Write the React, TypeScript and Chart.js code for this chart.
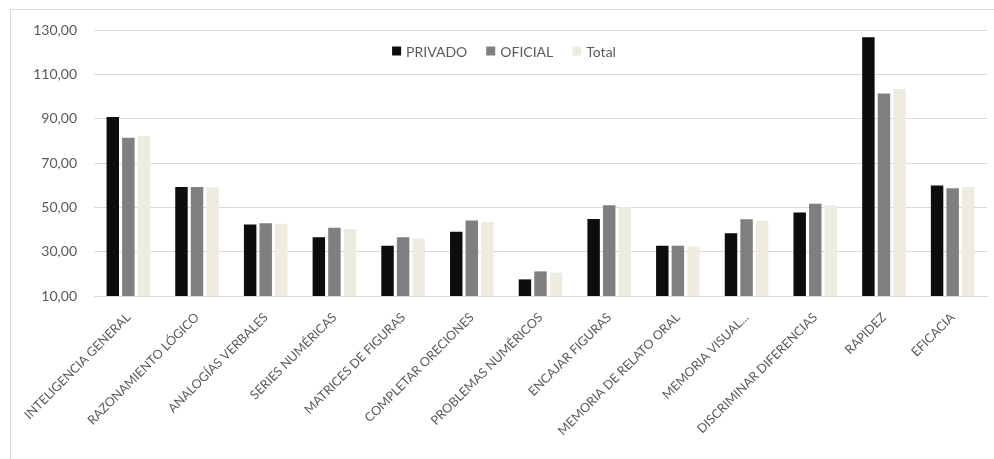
import React, { useEffect, useRef } from "react";
import { Chart, registerables } from "chart.js";

Chart.register(...registerables);

const categories = [
  "INTELIGENCIA GENERAL",
  "RAZONAMIENTO LÓGICO",
  "ANALOGÍAS VERBALES",
  "SERIES NUMÉRICAS",
  "MATRICES DE FIGURAS",
  "COMPLETAR ORECIONES",
  "PROBLEMAS NUMÉRICOS",
  "ENCAJAR FIGURAS",
  "MEMORIA DE RELATO ORAL",
  "MEMORIA VISUAL...",
  "DISCRIMINAR DIFERENCIAS",
  "RAPIDEZ",
  "EFICACIA",
];

const privado = [90.7, 59.2, 42.2, 36.5, 32.7, 39.0, 17.5, 44.7, 32.7, 38.3, 47.7, 126.7, 59.8];
const oficial = [81.4, 59.2, 42.8, 40.8, 36.5, 44.1, 21.1, 50.9, 32.7, 44.6, 51.6, 101.4, 58.6];
const total = [82.2, 59.1, 42.6, 40.2, 35.9, 43.4, 20.5, 50.1, 32.5, 44.0, 50.9, 103.4, 59.2];

const seriesNames = ["PRIVADO", "OFICIAL", "Total"];
const seriesColors = ["#0d0d0d", "#7f7f7f", "#eeece1"];

const yMin = 10;
const yMax = 130;
const yStep = 20;

const FONT = "Lato, 'Open Sans', sans-serif";
const TEXT = "#595959";
const GRID = "#d9d9d9";

// Legend drawn inside the plot, above the bars
const insideLegend = {
  id: "insideLegend",
  afterDraw(chart: Chart) {
    const ctx = chart.ctx;
    ctx.save();
    ctx.font = `14px ${FONT}`;
    ctx.textBaseline = "middle";
    ctx.textAlign = "left";
    const box = 9;
    const gapText = 5;
    const gapItem = 19;
    const items = chart.data.datasets.map((d) => ({
      label: String(d.label),
      color: d.backgroundColor as string,
    }));
    const widths = items.map((it) => box + gapText + ctx.measureText(it.label).width);
    const totalW = widths.reduce((a, b) => a + b, 0) + gapItem * (items.length - 1);
    let x = chart.width / 2 + 7 - totalW / 2;
    const y = 51;
    items.forEach((it, i) => {
      ctx.fillStyle = it.color;
      ctx.fillRect(x, y - box / 2, box, box);
      ctx.fillStyle = TEXT;
      ctx.fillText(it.label, x + box + gapText, y + 1);
      x += widths[i] + gapItem;
    });
    ctx.restore();
  },
};

export default function App() {
  const canvasRef = useRef<HTMLCanvasElement | null>(null);

  useEffect(() => {
    const canvas = canvasRef.current;
    if (!canvas) return;
    const values = [privado, oficial, total];
    const chart = new Chart(canvas, {
      type: "bar",
      data: {
        labels: categories,
        datasets: seriesNames.map((name, i) => ({
          label: name,
          data: values[i],
          backgroundColor: seriesColors[i],
          borderWidth: 0,
          categoryPercentage: 0.68,
          barPercentage: 0.8,
        })),
      },
      options: {
        responsive: false,
        animation: false,
        devicePixelRatio: 1,
        layout: { padding: { left: 0, right: 7, top: 30, bottom: 0 } },
        plugins: {
          legend: { display: false },
          tooltip: { enabled: false },
        },
        scales: {
          x: {
            grid: { display: false },
            border: { display: true, color: GRID, width: 1 },
            ticks: {
              autoSkip: false,
              maxRotation: 45,
              minRotation: 45,
              padding: 6,
              color: TEXT,
              font: { family: FONT, size: 12.6 },
            },
            afterFit(scale: any) {
              scale.height = 163;
            },
          },
          y: {
            min: yMin,
            max: yMax,
            grid: { color: GRID, lineWidth: 1, drawTicks: false },
            border: { display: false },
            ticks: {
              stepSize: yStep,
              padding: 17,
              color: TEXT,
              font: { family: FONT, size: 14 },
              callback: (v: any) => Number(v).toFixed(2).replace(".", ","),
            },
            afterFit(scale: any) {
              scale.width = 94;
            },
          },
        },
      },
      plugins: [insideLegend],
    });
    return () => chart.destroy();
  }, []);

  return (
    <div
      style={{
        position: "absolute",
        left: 0,
        top: 0,
        width: 994,
        height: 459,
        overflow: "hidden",
        background: "#ffffff",
      }}
    >
      <div
        style={{
          position: "absolute",
          left: 10,
          top: 9,
          width: 1000,
          height: 480,
          border: `1px solid ${GRID}`,
        }}
      />
      <canvas
        ref={canvasRef}
        width={994}
        height={459}
        style={{ position: "absolute", left: 0, top: 0, width: 994, height: 459 }}
      />
    </div>
  );
}
